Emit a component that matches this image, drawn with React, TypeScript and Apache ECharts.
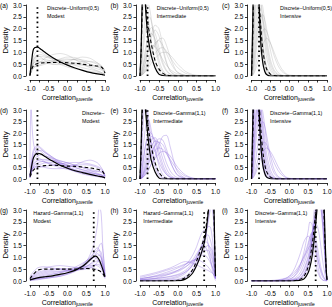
import React, { useEffect, useRef } from 'react';
import * as echarts from 'echarts';

const FONT = '"Liberation Sans", Arial, Helvetica, sans-serif';
const GREY = 'rgba(150,150,150,0.38)';
const PURPLE = 'rgba(138,104,222,0.5)';

// ---- (a) Discrete-Uniform(0,5), Modest ----
const aX = [-1, -0.95, -0.9, -0.8, -0.7, -0.6, -0.4, -0.2, 0, 0.2, 0.4, 0.6, 0.8, 0.9, 0.95, 1];
const aSolid = [0, 0.7, 1.15, 1.22, 1.12, 1.0, 0.78, 0.6, 0.46, 0.34, 0.24, 0.15, 0.09, 0.07, 0.05, 0.03];
const aDash = [0.05, 0.3, 0.45, 0.53, 0.55, 0.56, 0.57, 0.57, 0.56, 0.54, 0.5, 0.46, 0.42, 0.38, 0.3, 0.12];
const aBg = [
  [0.05, 0.4, 0.7, 0.9, 0.9, 0.85, 0.75, 0.65, 0.55, 0.45, 0.35, 0.28, 0.2, 0.15, 0.12, 0.08],
  [0.1, 0.3, 0.45, 0.55, 0.6, 0.62, 0.65, 0.7, 0.72, 0.68, 0.6, 0.5, 0.4, 0.3, 0.25, 0.15],
  [0.05, 0.5, 0.85, 1.05, 1.0, 0.9, 0.7, 0.5, 0.38, 0.3, 0.25, 0.2, 0.15, 0.12, 0.1, 0.05],
  [0.1, 0.25, 0.35, 0.45, 0.5, 0.55, 0.6, 0.65, 0.68, 0.7, 0.68, 0.6, 0.5, 0.4, 0.35, 0.2],
  [0.05, 0.35, 0.6, 0.8, 0.82, 0.8, 0.72, 0.65, 0.6, 0.55, 0.48, 0.4, 0.3, 0.25, 0.2, 0.1],
  [0.15, 0.4, 0.55, 0.6, 0.58, 0.55, 0.5, 0.52, 0.6, 0.72, 0.8, 0.75, 0.55, 0.4, 0.3, 0.15],
  [0.05, 0.2, 0.35, 0.5, 0.62, 0.75, 0.9, 0.95, 0.88, 0.7, 0.5, 0.35, 0.22, 0.15, 0.1, 0.05],
  [0.1, 0.45, 0.7, 0.85, 0.78, 0.65, 0.5, 0.48, 0.5, 0.55, 0.6, 0.62, 0.55, 0.45, 0.35, 0.2],
  [0.2, 0.35, 0.4, 0.42, 0.45, 0.5, 0.6, 0.72, 0.8, 0.78, 0.65, 0.5, 0.38, 0.3, 0.25, 0.15],
  [0.05, 0.3, 0.55, 0.7, 0.72, 0.7, 0.62, 0.55, 0.5, 0.48, 0.45, 0.42, 0.4, 0.38, 0.3, 0.15],
];

// ---- (b) Discrete-Uniform(0,5), Intermediate ----
const bX = [-1, -0.97, -0.94, -0.9, -0.85, -0.8, -0.75, -0.7, -0.6, -0.5, -0.4, -0.3, -0.2, -0.1, 0, 0.2, 0.4, 0.6, 1];
const bSolid = [0, 1.2, 3.2, 4.3, 2.8, 1.8, 1.25, 0.85, 0.35, 0.08, 0.02, 0, 0, 0, 0, 0, 0, 0, 0];
const bDash = [0, 1.0, 2.8, 3.8, 3.0, 2.3, 1.8, 1.35, 0.65, 0.3, 0.12, 0.04, 0.01, 0, 0, 0, 0, 0, 0];
const bBg = [
  [0, 0.05, 0.12, 0.3, 0.6, 0.95, 1.3, 1.6, 1.95, 1.7, 1.1, 0.55, 0.22, 0.08, 0.03, 0, 0, 0, 0],
  [0, 0.03, 0.08, 0.2, 0.4, 0.6, 0.85, 1.05, 1.4, 1.5, 1.3, 0.95, 0.6, 0.32, 0.15, 0.03, 0, 0, 0],
  [0, 0.2, 0.6, 1.3, 2.0, 2.4, 2.5, 2.3, 1.5, 0.7, 0.25, 0.08, 0.02, 0, 0, 0, 0, 0, 0],
  [0, 0.8, 2.0, 3.2, 3.4, 2.8, 2.0, 1.4, 0.6, 0.2, 0.05, 0, 0, 0, 0, 0, 0, 0, 0],
  [0, 0.02, 0.05, 0.12, 0.25, 0.4, 0.55, 0.7, 0.95, 1.15, 1.2, 1.05, 0.8, 0.55, 0.35, 0.12, 0.03, 0, 0],
  [0, 0.1, 0.3, 0.7, 1.2, 1.55, 1.75, 1.8, 1.55, 1.0, 0.5, 0.2, 0.07, 0.02, 0, 0, 0, 0, 0],
  [0, 0.02, 0.05, 0.1, 0.2, 0.3, 0.42, 0.55, 0.75, 0.9, 1.0, 1.0, 0.88, 0.7, 0.5, 0.2, 0.06, 0.02, 0],
  [0, 0.05, 0.12, 0.3, 0.6, 1.0, 1.4, 1.75, 2.15, 2.0, 1.3, 0.6, 0.2, 0.06, 0.02, 0, 0, 0, 0],
  [0, 0.3, 0.9, 1.8, 2.7, 3.1, 2.9, 2.4, 1.3, 0.5, 0.15, 0.04, 0, 0, 0, 0, 0, 0, 0],
  [0, 0.1, 0.25, 0.5, 0.8, 1.05, 1.2, 1.3, 1.25, 1.0, 0.7, 0.45, 0.28, 0.16, 0.09, 0.03, 0.01, 0, 0],
  [0, 0.05, 0.2, 0.5, 1.0, 1.5, 1.9, 2.05, 1.8, 1.2, 0.6, 0.25, 0.08, 0.02, 0, 0, 0, 0, 0],
  [0, 0.02, 0.06, 0.15, 0.3, 0.5, 0.72, 0.95, 1.3, 1.55, 1.6, 1.3, 0.8, 0.4, 0.15, 0.02, 0, 0, 0],
];

// ---- (c) Discrete-Uniform(0,5), Intensive ----
const cX = [-1, -0.97, -0.94, -0.9, -0.85, -0.8, -0.75, -0.7, -0.65, -0.6, -0.5, -0.4, -0.3, -0.2, -0.1, 0, 0.5, 1];
const cSolid = [0, 2.0, 4.5, 6.0, 5.0, 3.0, 1.3, 0.55, 0.2, 0.06, 0, 0, 0, 0, 0, 0, 0, 0];
const cDash = [0, 1.5, 3.8, 5.5, 4.6, 3.2, 2.0, 1.1, 0.6, 0.3, 0.08, 0.02, 0, 0, 0, 0, 0, 0];
const cBg = [
  [0, 0.1, 0.3, 0.7, 1.4, 2.0, 2.45, 2.6, 2.4, 2.0, 1.1, 0.45, 0.15, 0.04, 0, 0, 0, 0],
  [0, 1.0, 2.6, 3.6, 3.8, 3.0, 2.0, 1.1, 0.55, 0.25, 0.05, 0, 0, 0, 0, 0, 0, 0],
  [0, 0.5, 1.4, 2.5, 3.3, 3.5, 3.0, 2.2, 1.4, 0.8, 0.25, 0.06, 0, 0, 0, 0, 0, 0],
  [0, 0.05, 0.15, 0.4, 0.8, 1.2, 1.6, 1.9, 2.0, 1.9, 1.4, 0.85, 0.45, 0.2, 0.08, 0.02, 0, 0],
  [0, 1.5, 3.5, 4.5, 4.0, 2.8, 1.6, 0.8, 0.35, 0.15, 0.03, 0, 0, 0, 0, 0, 0, 0],
  [0, 0.3, 0.9, 1.8, 2.8, 3.3, 3.1, 2.5, 1.8, 1.1, 0.4, 0.1, 0.02, 0, 0, 0, 0, 0],
  [0, 0.03, 0.1, 0.25, 0.5, 0.8, 1.1, 1.35, 1.5, 1.6, 1.4, 1.0, 0.6, 0.3, 0.12, 0.04, 0, 0],
  [0, 0.8, 2.0, 3.2, 3.6, 3.2, 2.4, 1.5, 0.8, 0.4, 0.1, 0.02, 0, 0, 0, 0, 0, 0],
  [0, 0.2, 0.6, 1.3, 2.2, 2.9, 3.2, 2.9, 2.3, 1.6, 0.7, 0.25, 0.07, 0.02, 0, 0, 0, 0],
  [0, 2.5, 4.5, 5.0, 3.8, 2.2, 1.1, 0.5, 0.2, 0.07, 0.01, 0, 0, 0, 0, 0, 0, 0],
  [0, 0.6, 1.8, 3.0, 3.5, 3.0, 2.1, 1.3, 0.7, 0.35, 0.08, 0.01, 0, 0, 0, 0, 0, 0],
  [0, 0.15, 0.45, 1.0, 1.8, 2.4, 2.6, 2.4, 1.9, 1.35, 0.55, 0.18, 0.05, 0.01, 0, 0, 0, 0],
];

// ---- (d) Discrete, Modest ----
const dX = [-1, -0.97, -0.95, -0.9, -0.8, -0.7, -0.6, -0.4, -0.2, 0, 0.2, 0.4, 0.6, 0.8, 0.9, 0.95, 1];
const dSolid = [0.15, 0.4, 0.6, 0.95, 1.12, 1.08, 0.98, 0.78, 0.6, 0.47, 0.36, 0.28, 0.2, 0.13, 0.1, 0.08, 0.05];
const dDash = [0.1, 0.2, 0.28, 0.4, 0.52, 0.56, 0.58, 0.6, 0.58, 0.56, 0.55, 0.52, 0.48, 0.42, 0.36, 0.3, 0.15];
const dBg = [
  [0.5, 3.5, 2.5, 1.5, 1.0, 0.85, 0.75, 0.6, 0.5, 0.42, 0.35, 0.3, 0.25, 0.2, 0.18, 0.15, 0.1],
  [0.1, 0.5, 0.8, 1.2, 1.4, 1.3, 1.15, 0.9, 0.65, 0.45, 0.32, 0.22, 0.15, 0.1, 0.08, 0.06, 0.04],
  [0.05, 0.2, 0.35, 0.6, 0.8, 0.85, 0.85, 0.8, 0.7, 0.6, 0.5, 0.4, 0.3, 0.2, 0.15, 0.1, 0.05],
  [0.2, 0.3, 0.35, 0.45, 0.5, 0.52, 0.55, 0.6, 0.65, 0.7, 0.72, 0.7, 0.65, 0.55, 0.45, 0.35, 0.15],
  [0.1, 0.4, 0.6, 0.95, 1.2, 1.25, 1.15, 0.95, 0.75, 0.55, 0.4, 0.3, 0.22, 0.15, 0.12, 0.1, 0.05],
  [0.3, 0.4, 0.45, 0.5, 0.55, 0.55, 0.5, 0.45, 0.45, 0.5, 0.6, 0.75, 0.82, 0.7, 0.5, 0.35, 0.15],
  [0.05, 0.3, 0.5, 0.8, 1.0, 1.05, 1.0, 0.9, 0.8, 0.7, 0.6, 0.5, 0.38, 0.25, 0.18, 0.12, 0.05],
  [0.15, 0.35, 0.5, 0.7, 0.8, 0.78, 0.72, 0.65, 0.6, 0.58, 0.6, 0.62, 0.6, 0.5, 0.4, 0.3, 0.12],
  [0.1, 0.6, 0.9, 1.3, 1.45, 1.35, 1.2, 0.95, 0.7, 0.5, 0.35, 0.25, 0.18, 0.12, 0.1, 0.07, 0.04],
  [0.2, 0.35, 0.42, 0.5, 0.6, 0.65, 0.7, 0.72, 0.7, 0.62, 0.5, 0.4, 0.35, 0.32, 0.3, 0.25, 0.12],
  [0.1, 0.25, 0.35, 0.55, 0.7, 0.75, 0.78, 0.8, 0.78, 0.7, 0.6, 0.5, 0.42, 0.35, 0.3, 0.25, 0.1],
  [0.05, 0.4, 0.7, 1.05, 1.25, 1.2, 1.05, 0.85, 0.65, 0.5, 0.4, 0.33, 0.28, 0.22, 0.18, 0.14, 0.06],
];

// ---- (e) Discrete-Gamma(1,1), Intermediate ----
const eX = [-1, -0.97, -0.94, -0.9, -0.85, -0.8, -0.75, -0.7, -0.6, -0.5, -0.4, -0.3, -0.2, -0.1, 0, 0.2, 0.4, 0.6, 1];
const eSolid = [0, 1.5, 3.3, 4.0, 2.9, 2.0, 1.3, 0.8, 0.3, 0.05, 0, 0, 0, 0, 0, 0, 0, 0, 0];
const eDash = [0, 1.2, 2.9, 3.6, 3.1, 2.5, 1.9, 1.4, 0.7, 0.3, 0.1, 0.03, 0, 0, 0, 0, 0, 0, 0];
const eBg = [
  [0, 0.02, 0.05, 0.1, 0.2, 0.32, 0.48, 0.65, 1.0, 1.45, 1.85, 1.9, 1.4, 0.75, 0.3, 0.04, 0, 0, 0],
  [0, 0.05, 0.15, 0.35, 0.7, 1.1, 1.45, 1.7, 1.8, 1.45, 0.9, 0.45, 0.18, 0.06, 0.02, 0, 0, 0, 0],
  [0, 0.3, 0.8, 1.6, 2.3, 2.6, 2.5, 2.1, 1.3, 0.6, 0.2, 0.05, 0, 0, 0, 0, 0, 0, 0],
  [0, 0.05, 0.1, 0.25, 0.45, 0.7, 0.95, 1.15, 1.45, 1.6, 1.5, 1.15, 0.75, 0.4, 0.18, 0.03, 0, 0, 0],
  [0, 0.02, 0.05, 0.12, 0.22, 0.35, 0.5, 0.65, 0.9, 1.1, 1.2, 1.15, 1.0, 0.75, 0.5, 0.18, 0.04, 0, 0],
  [0, 0.6, 1.6, 2.8, 3.3, 3.0, 2.3, 1.6, 0.7, 0.25, 0.06, 0, 0, 0, 0, 0, 0, 0, 0],
  [0, 0.1, 0.25, 0.55, 1.0, 1.4, 1.7, 1.85, 1.7, 1.2, 0.65, 0.28, 0.1, 0.03, 0, 0, 0, 0, 0],
  [0, 0.05, 0.12, 0.3, 0.55, 0.85, 1.15, 1.4, 1.65, 1.6, 1.2, 0.7, 0.35, 0.15, 0.06, 0.01, 0, 0, 0],
  [0, 0.15, 0.4, 0.9, 1.5, 1.9, 2.05, 2.0, 1.6, 1.0, 0.5, 0.2, 0.07, 0.02, 0, 0, 0, 0, 0],
  [0, 0.03, 0.08, 0.2, 0.38, 0.6, 0.82, 1.0, 1.25, 1.35, 1.3, 1.1, 0.85, 0.6, 0.38, 0.12, 0.03, 0.01, 0],
  [0, 0.2, 0.5, 1.0, 1.5, 1.7, 1.75, 1.6, 1.2, 0.75, 0.4, 0.2, 0.08, 0.03, 0.01, 0, 0, 0, 0],
  [0, 1.0, 2.5, 3.4, 3.3, 2.6, 1.8, 1.2, 0.5, 0.15, 0.03, 0, 0, 0, 0, 0, 0, 0, 0],
  [0, 0.02, 0.06, 0.14, 0.3, 0.5, 0.75, 1.0, 1.45, 1.75, 1.7, 1.3, 0.8, 0.4, 0.15, 0.02, 0, 0, 0],
];

// ---- (f) Discrete-Gamma(1,1), Intensive ----
const fX = [-1, -0.97, -0.94, -0.9, -0.85, -0.8, -0.75, -0.7, -0.65, -0.6, -0.5, -0.4, -0.3, -0.2, -0.1, 0, 0.5, 1];
const fSolid = [0, 2.2, 4.6, 6.0, 5.0, 3.0, 1.4, 0.6, 0.25, 0.08, 0.01, 0, 0, 0, 0, 0, 0, 0];
const fDash = [0, 1.6, 3.8, 5.5, 4.8, 3.4, 2.1, 1.2, 0.65, 0.32, 0.08, 0.02, 0, 0, 0, 0, 0, 0];
const fBg = [
  [0, 0.1, 0.3, 0.7, 1.3, 1.9, 2.35, 2.5, 2.3, 1.9, 1.0, 0.4, 0.12, 0.03, 0, 0, 0, 0],
  [0, 1.0, 2.6, 3.6, 3.8, 3.0, 2.0, 1.1, 0.55, 0.25, 0.05, 0, 0, 0, 0, 0, 0, 0],
  [0, 0.5, 1.4, 2.5, 3.3, 3.5, 3.0, 2.2, 1.4, 0.8, 0.25, 0.06, 0, 0, 0, 0, 0, 0],
  [0, 0.05, 0.15, 0.35, 0.7, 1.05, 1.35, 1.55, 1.6, 1.5, 1.1, 0.7, 0.38, 0.18, 0.07, 0.02, 0, 0],
  [0, 1.5, 3.5, 4.5, 4.0, 2.8, 1.6, 0.8, 0.35, 0.15, 0.03, 0, 0, 0, 0, 0, 0, 0],
  [0, 0.3, 0.9, 1.8, 2.8, 3.3, 3.1, 2.5, 1.8, 1.1, 0.4, 0.1, 0.02, 0, 0, 0, 0, 0],
  [0, 0.03, 0.1, 0.22, 0.45, 0.7, 0.95, 1.15, 1.3, 1.35, 1.2, 0.9, 0.55, 0.28, 0.1, 0.03, 0, 0],
  [0, 0.8, 2.0, 3.2, 3.6, 3.2, 2.4, 1.5, 0.8, 0.4, 0.1, 0.02, 0, 0, 0, 0, 0, 0],
  [0, 0.2, 0.6, 1.3, 2.2, 2.9, 3.2, 2.9, 2.3, 1.6, 0.7, 0.25, 0.07, 0.02, 0, 0, 0, 0],
  [0, 2.5, 4.5, 5.0, 3.8, 2.2, 1.1, 0.5, 0.2, 0.07, 0.01, 0, 0, 0, 0, 0, 0, 0],
  [0, 0.4, 1.2, 2.3, 3.2, 3.4, 2.8, 1.9, 1.1, 0.55, 0.15, 0.03, 0, 0, 0, 0, 0, 0],
  [0, 1.2, 3.0, 4.0, 3.5, 2.4, 1.5, 0.9, 0.5, 0.3, 0.1, 0.03, 0, 0, 0, 0, 0, 0],
];

// ---- (g) Hazard-Gamma(1,1), Modest ----
const gX = [-1, -0.8, -0.6, -0.4, -0.2, 0, 0.2, 0.4, 0.5, 0.6, 0.7, 0.75, 0.8, 0.85, 0.9, 0.95, 1];
const gSolid = [0.05, 0.13, 0.18, 0.22, 0.28, 0.35, 0.45, 0.62, 0.75, 0.9, 1.02, 1.05, 1.0, 0.88, 0.68, 0.45, 0.18];
const gDash = [0.1, 0.45, 0.5, 0.5, 0.5, 0.5, 0.5, 0.52, 0.53, 0.52, 0.5, 0.48, 0.46, 0.43, 0.38, 0.3, 0.12];
const gBg = [
  [0.02, 0.05, 0.1, 0.15, 0.2, 0.28, 0.4, 0.6, 0.8, 1.1, 1.5, 1.9, 2.4, 3.2, 2.8, 1.2, 0.3],
  [0.1, 0.3, 0.4, 0.45, 0.5, 0.52, 0.55, 0.6, 0.62, 0.65, 0.68, 0.7, 0.7, 0.68, 0.6, 0.45, 0.2],
  [0.05, 0.15, 0.25, 0.3, 0.35, 0.4, 0.5, 0.65, 0.8, 0.95, 1.2, 1.35, 1.4, 1.3, 1.0, 0.6, 0.2],
  [0.2, 0.55, 0.6, 0.55, 0.5, 0.45, 0.45, 0.5, 0.55, 0.6, 0.65, 0.66, 0.64, 0.6, 0.5, 0.38, 0.15],
  [0.05, 0.1, 0.15, 0.2, 0.25, 0.32, 0.42, 0.58, 0.7, 0.85, 1.0, 1.1, 1.15, 1.1, 0.95, 0.65, 0.25],
  [0.15, 0.4, 0.55, 0.62, 0.65, 0.62, 0.58, 0.55, 0.55, 0.56, 0.55, 0.52, 0.48, 0.42, 0.35, 0.25, 0.1],
  [0.05, 0.12, 0.2, 0.28, 0.35, 0.45, 0.58, 0.75, 0.85, 0.95, 1.0, 0.98, 0.9, 0.78, 0.6, 0.4, 0.15],
  [0.1, 0.25, 0.35, 0.4, 0.42, 0.45, 0.5, 0.6, 0.7, 0.85, 1.0, 1.15, 1.25, 1.3, 1.2, 0.8, 0.25],
  [0.05, 0.1, 0.12, 0.15, 0.2, 0.3, 0.45, 0.7, 0.85, 1.0, 1.15, 1.25, 1.3, 1.5, 1.6, 1.2, 0.4],
  [0.15, 0.35, 0.45, 0.5, 0.52, 0.5, 0.48, 0.48, 0.5, 0.55, 0.62, 0.7, 0.8, 0.9, 0.85, 0.55, 0.2],
  [0.02, 0.08, 0.12, 0.18, 0.25, 0.35, 0.45, 0.55, 0.62, 0.7, 0.78, 0.82, 0.85, 0.82, 0.72, 0.5, 0.2],
  [0.1, 0.2, 0.3, 0.35, 0.4, 0.42, 0.45, 0.52, 0.6, 0.72, 0.85, 0.95, 1.05, 1.1, 1.0, 0.7, 0.25],
];

// ---- (h) Hazard-Gamma(1,1), Intermediate ----
const hX = [-1, -0.6, -0.2, 0, 0.1, 0.2, 0.3, 0.4, 0.5, 0.6, 0.7, 0.75, 0.8, 0.85, 0.9, 0.95, 0.98, 1];
const hSolid = [0, 0, 0, 0.01, 0.03, 0.08, 0.18, 0.35, 0.65, 1.05, 1.6, 2.1, 2.8, 3.6, 4.2, 3.5, 1.5, 0.2];
const hDash = [0, 0, 0.01, 0.03, 0.07, 0.14, 0.28, 0.5, 0.85, 1.3, 1.85, 2.3, 2.9, 3.5, 3.9, 3.2, 1.4, 0.2];
const hBg = [
  [0.05, 0.12, 0.3, 0.45, 0.55, 0.68, 0.85, 1.1, 1.45, 1.9, 2.15, 2.0, 1.6, 1.1, 0.6, 0.25, 0.1, 0.02],
  [0.15, 0.3, 0.5, 0.6, 0.66, 0.72, 0.8, 0.88, 0.9, 0.85, 0.75, 0.68, 0.6, 0.5, 0.4, 0.28, 0.18, 0.1],
  [0, 0.02, 0.08, 0.15, 0.22, 0.32, 0.48, 0.7, 1.0, 1.4, 1.85, 2.1, 2.3, 2.3, 2.0, 1.3, 0.6, 0.15],
  [0.1, 0.2, 0.35, 0.45, 0.52, 0.6, 0.7, 0.82, 0.95, 1.05, 1.1, 1.05, 0.95, 0.82, 0.65, 0.45, 0.3, 0.15],
  [0, 0.01, 0.04, 0.08, 0.12, 0.2, 0.32, 0.5, 0.75, 1.1, 1.6, 1.95, 2.4, 2.9, 3.2, 2.5, 1.2, 0.2],
  [0.05, 0.1, 0.2, 0.28, 0.35, 0.45, 0.6, 0.8, 1.05, 1.35, 1.6, 1.65, 1.6, 1.4, 1.1, 0.7, 0.4, 0.1],
  [0.2, 0.35, 0.55, 0.7, 0.78, 0.82, 0.8, 0.75, 0.68, 0.6, 0.52, 0.48, 0.45, 0.4, 0.35, 0.28, 0.2, 0.1],
  [0.02, 0.05, 0.12, 0.2, 0.28, 0.38, 0.52, 0.72, 1.0, 1.35, 1.75, 1.9, 1.95, 1.8, 1.5, 0.95, 0.5, 0.12],
  [0, 0, 0.02, 0.05, 0.08, 0.14, 0.25, 0.42, 0.7, 1.1, 1.65, 2.05, 2.55, 3.1, 3.4, 2.6, 1.3, 0.2],
  [0.1, 0.18, 0.3, 0.4, 0.48, 0.58, 0.72, 0.9, 1.15, 1.4, 1.5, 1.4, 1.2, 0.95, 0.7, 0.42, 0.25, 0.1],
  [0.05, 0.1, 0.18, 0.25, 0.3, 0.38, 0.5, 0.65, 0.85, 1.1, 1.35, 1.45, 1.5, 1.45, 1.3, 0.9, 0.5, 0.12],
  [0.08, 0.22, 0.42, 0.55, 0.62, 0.7, 0.78, 0.85, 0.95, 1.1, 1.25, 1.3, 1.3, 1.2, 0.95, 0.6, 0.35, 0.1],
];

// ---- (i) Discrete-Gamma(1,1), Intensive ----
const iX = [-1, -0.5, -0.3, -0.1, 0, 0.1, 0.2, 0.3, 0.4, 0.5, 0.55, 0.6, 0.65, 0.7, 0.75, 0.8, 0.85, 0.9, 0.95, 0.98, 1];
const iSolid = [0, 0, 0, 0, 0, 0, 0.01, 0.03, 0.1, 0.35, 0.6, 1.0, 1.6, 2.4, 3.3, 4.3, 5.0, 4.2, 1.8, 0.5, 0.05];
const iDash = [0, 0, 0, 0, 0, 0.01, 0.03, 0.08, 0.22, 0.6, 0.95, 1.45, 2.1, 2.9, 3.7, 4.4, 4.6, 3.6, 1.5, 0.45, 0.05];
const iBg = [
  [0, 0, 0.02, 0.1, 0.2, 0.4, 0.75, 1.2, 1.7, 1.9, 1.8, 1.5, 1.1, 0.7, 0.4, 0.2, 0.08, 0.03, 0, 0, 0],
  [0, 0, 0, 0.03, 0.07, 0.15, 0.35, 0.7, 1.3, 2.1, 2.5, 2.4, 1.9, 1.3, 0.7, 0.3, 0.1, 0.03, 0, 0, 0],
  [0, 0, 0, 0.01, 0.03, 0.06, 0.12, 0.25, 0.55, 1.05, 1.45, 1.9, 2.4, 2.8, 3.1, 3.2, 2.9, 2.1, 0.9, 0.3, 0.03],
  [0, 0.02, 0.05, 0.12, 0.2, 0.32, 0.5, 0.75, 1.05, 1.35, 1.5, 1.55, 1.45, 1.25, 0.95, 0.65, 0.4, 0.2, 0.08, 0.03, 0],
  [0, 0, 0, 0, 0, 0.02, 0.05, 0.12, 0.3, 0.7, 1.05, 1.6, 2.3, 3.1, 3.8, 4.2, 4.0, 3.0, 1.3, 0.4, 0.05],
  [0, 0, 0.01, 0.04, 0.08, 0.15, 0.3, 0.55, 0.95, 1.5, 1.8, 2.0, 2.0, 1.8, 1.4, 0.9, 0.5, 0.22, 0.06, 0.01, 0],
  [0, 0, 0, 0, 0.01, 0.03, 0.07, 0.15, 0.35, 0.75, 1.1, 1.6, 2.2, 2.8, 3.3, 3.5, 3.3, 2.6, 1.2, 0.4, 0.05],
  [0, 0, 0, 0.02, 0.04, 0.08, 0.18, 0.38, 0.75, 1.3, 1.65, 2.0, 2.3, 2.4, 2.3, 1.9, 1.3, 0.7, 0.25, 0.07, 0],
  [0, 0, 0, 0, 0, 0.01, 0.03, 0.08, 0.2, 0.5, 0.8, 1.25, 1.9, 2.7, 3.5, 4.2, 4.4, 3.6, 1.6, 0.5, 0.05],
  [0, 0.01, 0.03, 0.08, 0.14, 0.25, 0.42, 0.7, 1.1, 1.6, 1.9, 2.05, 1.95, 1.6, 1.1, 0.6, 0.3, 0.12, 0.03, 0.01, 0],
  [0, 0, 0, 0, 0.01, 0.02, 0.05, 0.12, 0.3, 0.75, 1.2, 1.9, 2.8, 3.6, 4.0, 3.7, 3.0, 2.0, 0.8, 0.25, 0.03],
  [0, 0, 0, 0.01, 0.02, 0.05, 0.1, 0.22, 0.48, 0.95, 1.3, 1.75, 2.3, 2.9, 3.3, 3.4, 3.1, 2.3, 1.0, 0.3, 0.03],
];

// Panel annotations and axis ticks
const PANEL_LABELS = ['(a)', '(b)', '(c)', '(d)', '(e)', '(f)', '(g)', '(h)', '(i)'];
const SCENARIOS = [
  'Discrete−Uniform(0,5)', 'Discrete−Uniform(0,5)', 'Discrete−Uniform(0,5)',
  'Discrete−', 'Discrete−Gamma(1,1)', 'Discrete−Gamma(1,1)',
  'Hazard−Gamma(1,1)', 'Hazard−Gamma(1,1)', 'Discrete−Gamma(1,1)',
];
const LEVELS = ['Modest', 'Intermediate', 'Intensive', 'Modest', 'Intermediate', 'Intensive', 'Modest', 'Intermediate', 'Intensive'];
const REF_LINES = [-0.8, -0.8, -0.8, -0.8, -0.8, -0.8, 0.7, 0.7, 0.7];
const X_TICK_LABELS = [-1, -0.5, 0, 0.5, 1];
const X_TITLE = '{c|Correlation}{s|juvenile}';

const PANELS = [
  { x: aX, bg: aBg, solid: aSolid, dash: aDash, tone: GREY },
  { x: bX, bg: bBg, solid: bSolid, dash: bDash, tone: GREY },
  { x: cX, bg: cBg, solid: cSolid, dash: cDash, tone: GREY },
  { x: dX, bg: dBg, solid: dSolid, dash: dDash, tone: PURPLE },
  { x: eX, bg: eBg, solid: eSolid, dash: eDash, tone: PURPLE },
  { x: fX, bg: fBg, solid: fSolid, dash: fDash, tone: PURPLE },
  { x: gX, bg: gBg, solid: gSolid, dash: gDash, tone: PURPLE },
  { x: hX, bg: hBg, solid: hSolid, dash: hDash, tone: PURPLE },
  { x: iX, bg: iBg, solid: iSolid, dash: iDash, tone: PURPLE },
];

// Layout of the 3x3 panel grid (pixels)
const COL_LEFT = [29.5, 140, 251.5];
const COL_WIDTH = 75.5;
const ROW_TOP = [5, 110, 210];
const ROW_HEIGHT = [71, 69, 71];
const TITLE_DX = [17.5, 16.7, 28.5, 52.5, 13.3, 18.5, 3.8, 3.3, 3.5];
const AXIS_OFFSET = 4;

const RICH_TITLE = {
  c: { fontSize: 7, fontFamily: FONT, fill: '#000', lineHeight: 8, verticalAlign: 'top' },
  s: { fontSize: 5, fontFamily: FONT, fill: '#000', lineHeight: 5, verticalAlign: 'bottom', padding: [5, 0, 0, 0] },
};

function pairs(xs: number[], ys: number[]) {
  const out: number[][] = [];
  for (let i = 0; i < xs.length && i < ys.length; i++) out.push([xs[i], ys[i]]);
  return out;
}

const fmt1 = (v: number) => (Math.abs(v) < 1e-9 ? '0.0' : v.toFixed(1));

function textEl(text: string, x: number, y: number, size: number, align = 'left') {
  return {
    type: 'text', x, y, silent: true, z: 10,
    style: {
      text, fontSize: size, fontFamily: FONT, fill: '#000',
      align, verticalAlign: 'middle', textAlign: align, textVerticalAlign: 'middle',
    },
  };
}

function buildOption() {
  const grid: any[] = [];
  const xAxis: any[] = [];
  const yAxis: any[] = [];
  const series: any[] = [];
  const graphic: any[] = [];

  PANELS.forEach((p, k) => {
    const r = Math.floor(k / 3);
    const c = k % 3;
    const left = COL_LEFT[c];
    const top = ROW_TOP[r];
    const height = ROW_HEIGHT[r];
    grid.push({ left, top, width: COL_WIDTH, height, containLabel: false });

    xAxis.push({
      type: 'value', gridIndex: k, min: -1, max: 1, interval: 0.5, offset: AXIS_OFFSET,
      axisLine: { show: true, onZero: false, lineStyle: { color: '#000', width: 0.8 } },
      axisTick: { show: true, length: 2.5, lineStyle: { color: '#000', width: 0.8 } },
      minorTick: { show: true, splitNumber: 2, length: 2.5, lineStyle: { color: '#000', width: 0.8 } },
      splitLine: { show: false },
      minorSplitLine: { show: false },
      axisLabel: { show: false },
    });

    yAxis.push({
      type: 'value', gridIndex: k, min: 0, max: 3, interval: 0.5, offset: AXIS_OFFSET,
      axisLine: { show: true, onZero: false, lineStyle: { color: '#000', width: 0.8 } },
      axisTick: { show: true, length: 2.5, lineStyle: { color: '#000', width: 0.8 } },
      splitLine: { show: false },
      axisLabel: { margin: 4, fontSize: 6.5, color: '#000', fontFamily: FONT, formatter: fmt1 },
      name: 'Density',
      nameLocation: 'middle',
      nameGap: 13,
      nameTextStyle: { fontSize: 8, fontFamily: FONT, color: '#000' },
    });

    p.bg.forEach((curve) => {
      series.push({
        type: 'line', xAxisIndex: k, yAxisIndex: k, data: pairs(p.x, curve),
        symbol: 'none', smooth: 0.3, silent: true, z: 1,
        lineStyle: { color: p.tone, width: 0.7 },
      });
    });
    series.push({
      type: 'line', xAxisIndex: k, yAxisIndex: k, data: pairs(p.x, p.dash),
      symbol: 'none', smooth: 0.3, silent: true, z: 3,
      lineStyle: { color: '#000', width: 1.1, type: [3.5, 2.5] },
    });
    series.push({
      type: 'line', xAxisIndex: k, yAxisIndex: k, data: pairs(p.x, p.solid),
      symbol: 'none', smooth: 0.3, silent: true, z: 3,
      lineStyle: { color: '#000', width: 1.2 },
    });
    series.push({
      type: 'line', xAxisIndex: k, yAxisIndex: k,
      data: [[REF_LINES[k], 0], [REF_LINES[k], 3]],
      symbol: 'none', silent: true, z: 4,
      lineStyle: { color: '#000', width: 1.8, type: [1.6, 3.2], cap: 'butt' },
    });

    graphic.push(textEl(PANEL_LABELS[k], left - 29.5, top, 6.5));
    graphic.push(textEl(SCENARIOS[k], left + TITLE_DX[k], top + 2.5, 5.3));
    graphic.push(textEl(LEVELS[k], left + TITLE_DX[k], top + 11, 5.3));
    graphic.push({
      type: 'text', x: left + COL_WIDTH / 2, y: top + height + AXIS_OFFSET + 13.5, silent: true, z: 10,
      style: {
        text: X_TITLE, rich: RICH_TITLE, fill: '#000', fontFamily: FONT,
        align: 'center', verticalAlign: 'top', textAlign: 'center', textVerticalAlign: 'top',
      },
    });
  });

  return {
    animation: false,
    textStyle: { fontFamily: FONT },
    grid, xAxis, yAxis, series, graphic,
  };
}

export default function App() {
  const ref = useRef<HTMLDivElement>(null);
  useEffect(() => {
    document.body.style.margin = '0';
    if (!ref.current) return;
    const chart = echarts.init(ref.current, undefined, { renderer: 'svg' });
    const option: any = buildOption();
    chart.setOption(option);

    // x tick labels, placed through each panel's own x scale
    const tickLabels: any[] = [];
    PANELS.forEach((_, k) => {
      X_TICK_LABELS.forEach((v) => {
        const pt = chart.convertToPixel({ gridIndex: k } as any, [v, 0]) as number[];
        if (pt && isFinite(pt[0])) {
          tickLabels.push(textEl(fmt1(v), pt[0], pt[1] + AXIS_OFFSET + 8, 6.5, 'center'));
        }
      });
    });
    chart.setOption({ graphic: [...option.graphic, ...tickLabels] });
    return () => chart.dispose();
  }, []);
  return <div ref={ref} style={{ width: 332, height: 307, background: '#fff' }} />;
}
